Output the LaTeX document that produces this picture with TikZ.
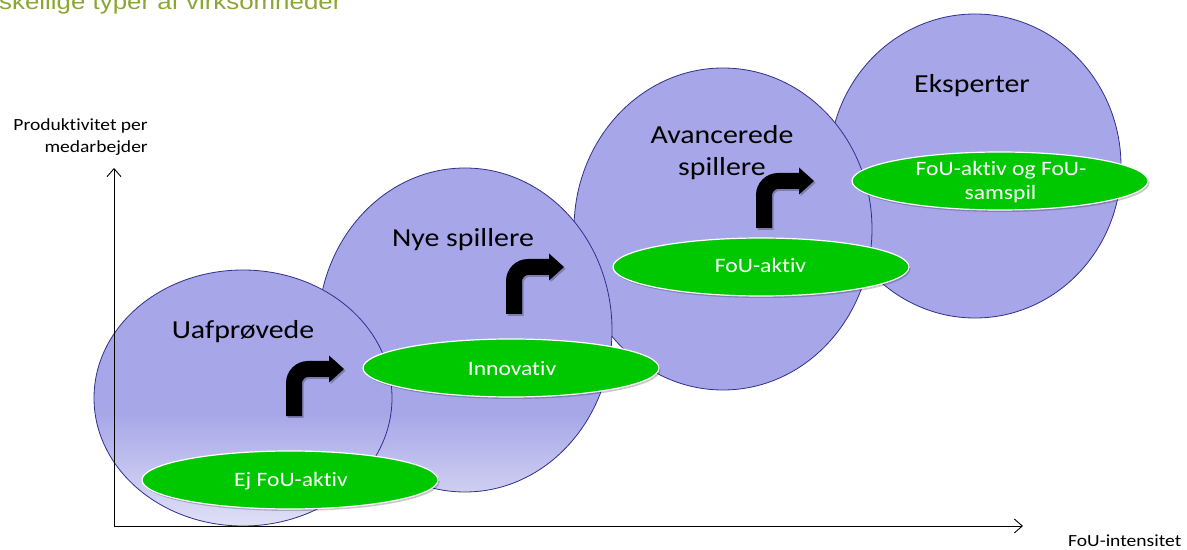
\documentclass[tikz,border=0pt]{standalone}
\usepackage{fontspec}
\setmainfont{Carlito}[FakeStretch=1.15, Ligatures=NoCommon]
\newfontfamily\titlefont{Liberation Sans}[FakeStretch=1.15]
\usetikzlibrary{arrows.meta,shapes.geometric}
\definecolor{lav}{RGB}{166,166,232}
\definecolor{lavlight}{RGB}{234,234,249}
\definecolor{circborder}{RGB}{48,48,140}
\definecolor{grn}{RGB}{0,200,0}
\definecolor{olivetitle}{RGB}{140,166,50}
\tikzset{
  circtitle/.style={font=\fontsize{26bp}{31bp}\selectfont, anchor=base, inner sep=0},
  grntext/.style={font=\fontsize{20.5bp}{24bp}\selectfont, text=white, anchor=base, inner sep=0},
  axlabel/.style={font=\fontsize{17bp}{20bp}\selectfont, inner sep=0},
  grnell/.style={ellipse, fill=grn, draw=white, line width=1.2bp, inner sep=0,
    minimum width=296bp, minimum height=58bp},
  grnshadow/.style={ellipse, fill=black, opacity=0.22, inner sep=0,
    minimum width=296bp, minimum height=58bp},
  axisline/.style={line width=0.9bp, -{Straight Barb[length=8bp,width=14bp,line width=0.9bp]}},
}
\newcommand\bubble[4]{%
  \fill[lav] (#1,#2) ellipse [x radius=#3bp, y radius=#4bp];
  \begin{scope}
    \clip (#1,#2) ellipse [x radius=#3bp, y radius=#4bp];
    \shade[top color=lav, bottom color=lavlight] (0,412) rectangle (1187,545);
  \end{scope}
  \draw[circborder, line width=0.8bp] (#1,#2) ellipse [x radius=#3bp, y radius=#4bp];
}
\newcommand\arrowshape{(0,0) -- (0,-33) .. controls (0,-45.1) and (9.9,-55) .. (22,-55) -- (43,-55) -- (43,-60.5) -- (58,-47) -- (43,-33.5) -- (43,-39) -- (22,-39) .. controls (18.7,-39) and (16,-35.7) .. (16,-33) -- (16,0) -- cycle}
\newcommand\turnarrow[2]{%
  \begin{scope}[shift={(#1,#2)}]
    \fill[black, opacity=0.25] [shift={(1.5,1.8)}] \arrowshape;
    \fill[black] \arrowshape;
  \end{scope}}
\begin{document}
\begin{tikzpicture}[x=1bp,y=-1bp]
\useasboundingbox (0,0) rectangle (1187,550);

% title (cut off at top)
\node[font=\titlefont\fontsize{22.5bp}{27bp}\selectfont, text=olivetitle, anchor=base west, inner sep=0] (title) at (-1,10) {skellige typer af virksomheder};

% bubbles, back to front
\bubble{975}{166}{146}{152}
\bubble{723}{229}{149}{161}
\bubble{465}{330}{147}{162}
\bubble{243}{398}{149}{128}

\coordinate (c1) at (243,398);
\coordinate (c2) at (465,330);
\coordinate (c3) at (723,229);
\coordinate (c4) at (975,166);

% turn arrows
\turnarrow{286}{416}
\turnarrow{506}{314}
\turnarrow{756}{228}

% titles
\node[circtitle] (t1) at (243,339) {Uafprøvede};
\node[circtitle] (t2) at (463,247) {Nye spillere};
\node[circtitle] (t3a) at (722,144) {Avancerede};
\node[circtitle] (t3b) at (722,176) {spillere};
\node[circtitle] (t4) at (972,93) {Eksperter};

% green ellipses
\node[grnshadow] at (291.5,482) {};
\node[grnshadow] at (512.5,370) {};
\node[grnshadow] at (762.5,269) {};
\node[grnshadow] at (1001.5,183) {};
\node[grnell] (e1) at (290,480) {};
\node[grnell] (e2) at (511,368) {};
\node[grnell] (e3) at (761,267) {};
\node[grnell] (e4) at (1000,181) {};

\node[grntext] (l1) at (291,486.5) {Ej FoU-aktiv};
\node[grntext] (l2) at (512,376) {Innovativ};
\node[grntext] (l3) at (760.5,273) {FoU-aktiv};
\node[grntext] (l4a) at (1001,176) {FoU-aktiv og FoU-};
\node[grntext] (l4b) at (1000.5,200) {samspil};

% axes
\coordinate (o) at (114,526);
\coordinate (ytip) at (114,168);
\coordinate (xtip) at (1023,526);
\draw[axisline] (o) -- (ytip);
\draw[axisline] (o) -- (xtip);

\node[axlabel, anchor=base east] (ya) at (148,131) {Produktivitet per};
\node[axlabel, anchor=base east] (yb) at (148,153) {medarbejder};
\node[axlabel, anchor=base west] (xl) at (1068,546) {FoU-intensitet};
\end{tikzpicture}
\end{document}
